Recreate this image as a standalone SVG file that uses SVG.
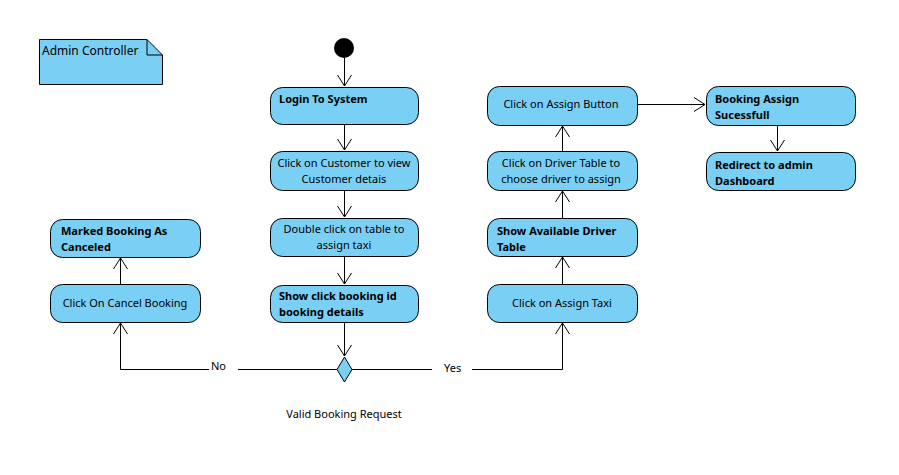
<svg xmlns="http://www.w3.org/2000/svg" width="899" height="475" viewBox="0 0 899 475">
<defs>
<marker id="arr" markerWidth="12" markerHeight="16" refX="11" refY="8" orient="auto" markerUnits="userSpaceOnUse">
<path d="M0,1 L11,8 L0,15" fill="none" stroke="#000" stroke-width="1"/>
</marker>
</defs>
<style>
.n{fill:#7acff5;stroke:#000;stroke-width:1}
.t{font-family:"Noto Sans","Open Sans",sans-serif;font-size:11px;fill:#000}
.b{font-weight:bold}
.c{text-anchor:middle}
.e{fill:none;stroke:#000;stroke-width:1}
</style>
<rect width="899" height="475" fill="#fff"/>
<g id="note">
<path class="n" d="M39.5,39.5 H147 L162.5,55 V84.5 H39.5 Z"/>
<path class="e" d="M147,39.5 V55 H162.5"/>
<text class="t" x="42" y="55" style="font-size:12px">Admin Controller</text>
</g>
<g id="start"><circle cx="344" cy="48" r="10" fill="#000"/></g>
<g id="login"><rect class="n" x="270.5" y="87.5" width="148" height="37" rx="12"/><text class="t b" x="279" y="103">Login To System</text></g>
<g id="customer"><rect class="n" x="270.5" y="151.5" width="148" height="39" rx="12"/><text class="t c" x="344" y="167">Click on Customer to view</text><text class="t c" x="344" y="183">Customer detais</text></g>
<g id="dblclick"><rect class="n" x="270.5" y="218.5" width="148" height="38" rx="12"/><text class="t c" x="344" y="233">Double click on table to</text><text class="t c" x="344" y="249">assign taxi</text></g>
<g id="showbooking"><rect class="n" x="270.5" y="285.5" width="148" height="37" rx="12"/><text class="t b" x="279" y="300">Show click booking id</text><text class="t b" x="279" y="316">booking details</text></g>
<g id="decision"><path class="n" d="M344.5,357 L352,369.5 L344.5,382 L337,369.5 Z"/><text class="t c" x="344" y="418">Valid Booking Request</text></g>
<g id="cancel"><rect class="n" x="50.5" y="284.5" width="150" height="38" rx="12"/><text class="t c" x="125" y="307">Click On Cancel Booking</text></g>
<g id="marked"><rect class="n" x="50.5" y="219.5" width="150" height="38" rx="12"/><text class="t b" x="61" y="235">Marked Booking As</text><text class="t b" x="61" y="251">Canceled</text></g>
<g id="assigntaxi"><rect class="n" x="487.5" y="284.5" width="150" height="38" rx="12"/><text class="t c" x="562" y="307">Click on Assign Taxi</text></g>
<g id="showdriver"><rect class="n" x="487.5" y="218.5" width="150" height="38" rx="12"/><text class="t b" x="497" y="235">Show Available Driver</text><text class="t b" x="497" y="251">Table</text></g>
<g id="drivertable"><rect class="n" x="487.5" y="151.5" width="150" height="39" rx="12"/><text class="t c" x="561" y="167">Click on Driver Table to</text><text class="t c" x="561" y="183">choose driver to assign</text></g>
<g id="assignbtn"><rect class="n" x="487.5" y="86.5" width="150" height="39" rx="12"/><text class="t c" x="561" y="108">Click on Assign Button</text></g>
<g id="success"><rect class="n" x="706.5" y="86.5" width="149" height="39" rx="12"/><text class="t b" x="715" y="103">Booking Assign</text><text class="t b" x="715" y="119">Sucessfull</text></g>
<g id="redirect"><rect class="n" x="706.5" y="152.5" width="149" height="38" rx="12"/><text class="t b" x="715" y="169">Redirect to admin</text><text class="t b" x="715" y="185">Dashboard</text></g>
<g id="connectors">
<path class="e" d="M344.5,58 V86" marker-end="url(#arr)"/>
<path class="e" d="M344.5,125 V150" marker-end="url(#arr)"/>
<path class="e" d="M344.5,191 V217" marker-end="url(#arr)"/>
<path class="e" d="M344.5,257 V284" marker-end="url(#arr)"/>
<path class="e" d="M344.5,323 V356" marker-end="url(#arr)"/>
<path class="e" d="M337,369.5 H238 M209,369.5 H120.5 V323" marker-end="url(#arr)"/>
<text class="t" x="211" y="370">No</text>
<path class="e" d="M120.5,284 V258" marker-end="url(#arr)"/>
<path class="e" d="M352,369.5 H432 M472,369.5 H562.5 V323" marker-end="url(#arr)"/>
<text class="t" x="444" y="372">Yes</text>
<path class="e" d="M562.5,284 V257" marker-end="url(#arr)"/>
<path class="e" d="M562.5,218 V191" marker-end="url(#arr)"/>
<path class="e" d="M562.5,151 V126" marker-end="url(#arr)"/>
<path class="e" d="M637.5,104.5 H705" marker-end="url(#arr)"/>
<path class="e" d="M777.5,126 V151" marker-end="url(#arr)"/>
</g>
</svg>
